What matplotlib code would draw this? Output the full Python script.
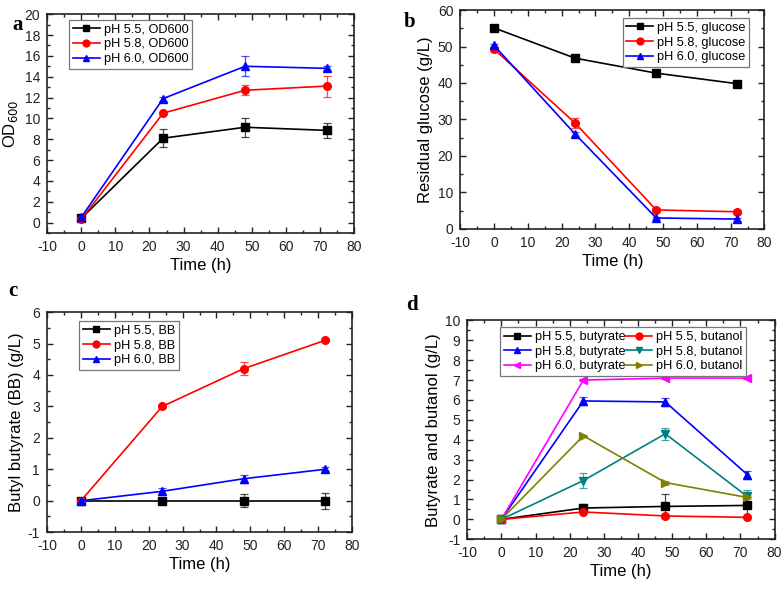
import matplotlib
matplotlib.use("Agg")
import matplotlib.pyplot as plt
from matplotlib.ticker import MultipleLocator

plt.rcParams["font.family"] = ["Liberation Sans", "DejaVu Sans"]
plt.rcParams["axes.unicode_minus"] = False

time_h = [0, 24, 48, 72]

# panel a: OD600
od_55 = [0.4, 8.1, 9.15, 8.85]
od_55_err = [0.1, 0.85, 0.9, 0.7]
od_58 = [0.3, 10.5, 12.7, 13.1]
od_58_err = [0.1, 0.1, 0.5, 1.0]
od_60 = [0.5, 11.9, 15.0, 14.8]
od_60_err = [0.1, 0.2, 0.95, 0.2]

# panel b: residual glucose
glc_55 = [55.1, 46.8, 42.7, 39.8]
glc_55_err = [0.5, 0.8, 0.7, 0.8]
glc_58 = [49.3, 29.0, 5.2, 4.7]
glc_58_err = [0.5, 1.3, 0.6, 0.6]
glc_60 = [50.3, 26.0, 3.0, 2.7]
glc_60_err = [0.5, 0.5, 0.4, 0.4]

# panel c: butyl butyrate
bb_55 = [0.0, 0.0, 0.0, 0.0]
bb_55_err = [0.02, 0.02, 0.2, 0.25]
bb_58 = [0.0, 3.0, 4.2, 5.1]
bb_58_err = [0.02, 0.06, 0.2, 0.05]
bb_60 = [0.0, 0.3, 0.7, 1.0]
bb_60_err = [0.02, 0.1, 0.12, 0.06]

# panel d: butyrate and butanol
but_55 = [0.0, 0.57, 0.65, 0.7]
but_55_err = [0.02, 0.2, 0.6, 0.6]
bol_55 = [0.0, 0.37, 0.17, 0.1]
bol_55_err = [0.02, 0.05, 0.05, 0.05]
but_58 = [0.0, 5.95, 5.9, 2.25]
but_58_err = [0.02, 0.2, 0.2, 0.2]
bol_58 = [0.0, 1.95, 4.3, 1.15]
bol_58_err = [0.02, 0.38, 0.3, 0.35]
but_60 = [0.0, 7.0, 7.1, 7.1]
but_60_err = [0.02, 0.05, 0.05, 0.05]
bol_60 = [0.0, 4.2, 1.85, 1.1]
bol_60_err = [0.02, 0.05, 0.1, 0.1]

BLACK = "#000000"
RED = "#ff0000"
BLUE = "#0000ff"
TEAL = "#008080"
MAGENTA = "#ff00ff"
OLIVE = "#808000"

fig = plt.figure(figsize=(7.84, 5.9), dpi=100)


def series(ax, y, err, color, marker, label):
    ax.errorbar(time_h, y, yerr=err, fmt="none", ecolor=color, alpha=0.7,
                elinewidth=0.9, capsize=3, capthick=0.9, zorder=2)
    ax.plot(time_h, y, color=color, marker=marker, markersize=5.5,
            linewidth=1.2, label=label, zorder=3)


def style_axes(ax, ylim, ymaj, ymin, ylabel):
    ax.set_xlim(-10, 80)
    ax.set_ylim(*ylim)
    ax.xaxis.set_major_locator(MultipleLocator(10))
    ax.xaxis.set_minor_locator(MultipleLocator(5))
    ax.yaxis.set_major_locator(MultipleLocator(ymaj))
    ax.yaxis.set_minor_locator(MultipleLocator(ymin))
    ax.tick_params(which="both", direction="in", top=True, right=True,
                   labelsize=10, width=1.0, colors="#222222", labelcolor="#222222")
    ax.tick_params(which="major", length=4.5, pad=5)
    ax.tick_params(which="minor", length=2.5)
    for s in ax.spines.values():
        s.set_linewidth(1.2)
        s.set_color("#222222")
    ax.set_xlabel("Time (h)", fontsize=12, labelpad=3)
    ax.set_ylabel(ylabel, fontsize=12, labelpad=3)


def add_legend(ax, anchor, loc="upper left", ncol=1):
    leg = ax.legend(loc=loc, bbox_to_anchor=anchor, borderaxespad=0, ncol=ncol,
                    fontsize=9.2, fancybox=False, edgecolor="#777777", framealpha=1,
                    handlelength=2.1, handletextpad=0.3, labelspacing=0.2,
                    borderpad=0.3, columnspacing=0.0, markerscale=0.9)
    leg.get_frame().set_linewidth(0.9)
    return leg


# a
ax_a = fig.add_axes([0.060, 0.605, 0.392, 0.371])
series(ax_a, od_55, od_55_err, BLACK, "s", "pH 5.5, OD600")
series(ax_a, od_58, od_58_err, RED, "o", "pH 5.8, OD600")
series(ax_a, od_60, od_60_err, BLUE, "^", "pH 6.0, OD600")
style_axes(ax_a, (-1, 20), 2, 1, "OD$_{600}$")
add_legend(ax_a, (0.072, 0.973))

# b
ax_b = fig.add_axes([0.587, 0.612, 0.388, 0.371])
series(ax_b, glc_55, glc_55_err, BLACK, "s", "pH 5.5, glucose")
series(ax_b, glc_58, glc_58_err, RED, "o", "pH 5.8, glucose")
series(ax_b, glc_60, glc_60_err, BLUE, "^", "pH 6.0, glucose")
style_axes(ax_b, (0, 60), 10, 5, "Residual glucose (g/L)")
add_legend(ax_b, (0.951, 0.963), loc="upper right")

# c
ax_c = fig.add_axes([0.060, 0.098, 0.389, 0.373])
series(ax_c, bb_55, bb_55_err, BLACK, "s", "pH 5.5, BB")
series(ax_c, bb_58, bb_58_err, RED, "o", "pH 5.8, BB")
series(ax_c, bb_60, bb_60_err, BLUE, "^", "pH 6.0, BB")
style_axes(ax_c, (-1, 6), 1, 0.5, "Butyl butyrate (BB) (g/L)")
add_legend(ax_c, (0.105, 0.959))

# d
ax_d = fig.add_axes([0.596, 0.086, 0.392, 0.371])
series(ax_d, but_55, but_55_err, BLACK, "s", "pH 5.5, butyrate")
series(ax_d, but_58, but_58_err, BLUE, "^", "pH 5.8, butyrate")
series(ax_d, but_60, but_60_err, MAGENTA, "<", "pH 6.0, butyrate")
series(ax_d, bol_55, bol_55_err, RED, "o", "pH 5.5, butanol")
series(ax_d, bol_58, bol_58_err, TEAL, "v", "pH 5.8, butanol")
series(ax_d, bol_60, bol_60_err, OLIVE, ">", "pH 6.0, butanol")
style_axes(ax_d, (-1, 10), 1, 0.5, "Butyrate and butanol (g/L)")
add_legend(ax_d, (0.107, 0.968), ncol=2)

for lab, x, y in [("a", 12, 30), ("b", 404, 27), ("c", 8, 296), ("d", 406, 310)]:
    fig.text(x / 784, 1 - y / 590, lab, fontsize=15, fontweight="bold",
             family=["Liberation Serif", "DejaVu Serif"], va="baseline")

fig.savefig("out.png", dpi=100)
